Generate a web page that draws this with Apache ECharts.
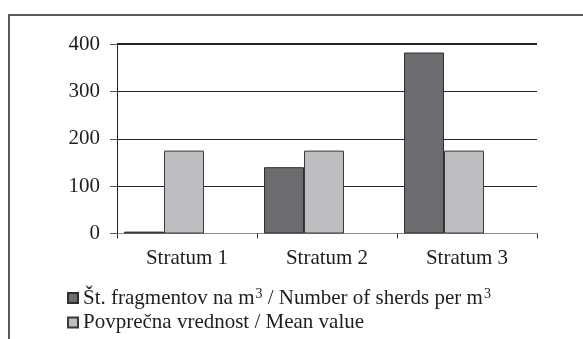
<!DOCTYPE html>
<html>
<head>
<meta charset="utf-8">
<script src="https://cdn.jsdelivr.net/npm/echarts@6/dist/echarts.min.js"></script>
<style>
  html, body { margin: 0; padding: 0; background: #fff; }
  #chart { width: 583px; height: 339px; }
</style>
</head>
<body>
<div id="chart"></div>
<script>
// Sherd density per stratum compared with the overall mean
const categories = ['Stratum 1', 'Stratum 2', 'Stratum 3'];
const sherdsPerM3 = [4, 140, 382];
const meanValue = [175, 175, 175];
const yTicks = [0, 100, 200, 300, 400];

const seriesNames = [
  'Št. fragmentov na m3 / Number of sherds per m3',
  'Povprečna vrednost / Mean value'
];

const serif = '"Liberation Serif", "DejaVu Serif", serif';
const textColor = '#1e1e1e';

const legendText = {
  fontFamily: serif,
  fontSize: 21,
  color: textColor,
  rich: {
    t: { fontFamily: serif, fontSize: 21, color: textColor, lineHeight: 22 },
    s: { fontFamily: serif, fontSize: 14, color: textColor, lineHeight: 22, verticalAlign: 'top', padding: [0, 0, 7, 1] }
  }
};

function legendLabel(name) {
  if (name === seriesNames[0]) {
    return '{t|Št. fragmentov na m}{s|3}{t| / Number of sherds per m}{s|3}';
  }
  return '{t|' + name + '}';
}

function legendRow(name, top) {
  return {
    left: 67,
    top: top,
    itemWidth: 10,
    itemHeight: 10,
    itemGap: 8,
    icon: 'rect',
    padding: 0,
    data: [name],
    formatter: legendLabel,
    textStyle: legendText
  };
}

const chart = echarts.init(document.getElementById('chart'), null, { renderer: 'canvas' });

chart.setOption({
  animation: false,
  backgroundColor: '#ffffff',
  graphic: [{
    type: 'rect',
    shape: { x: 9, y: 15, width: 700, height: 500 },
    style: { fill: 'none', stroke: '#5a5a5a', lineWidth: 2 },
    silent: true
  }],
  grid: { left: 117, right: 46, top: 44, bottom: 105.5, containLabel: false },
  legend: [
    legendRow(seriesNames[0], 287),
    legendRow(seriesNames[1], 312)
  ],
  xAxis: {
    type: 'category',
    data: categories,
    boundaryGap: true,
    axisLine: { show: true, lineStyle: { color: '#8a8a8a', width: 1 } },
    axisTick: { show: true, length: 5, lineStyle: { color: '#333' } },
    axisLabel: { fontFamily: serif, fontSize: 21, color: textColor, margin: 14 },
    splitLine: { show: false }
  },
  yAxis: {
    type: 'value',
    min: yTicks[0],
    max: yTicks[yTicks.length - 1],
    interval: 100,
    axisLine: { show: true, lineStyle: { color: '#222', width: 1 } },
    axisTick: { show: true, length: 7, lineStyle: { color: '#555' } },
    axisLabel: { fontFamily: serif, fontSize: 21, color: textColor, margin: 17 },
    splitLine: { show: true, lineStyle: { color: '#222', width: 1 } }
  },
  series: [
    {
      name: seriesNames[0],
      type: 'bar',
      data: sherdsPerM3,
      barWidth: 40,
      barGap: '0%',
      itemStyle: { color: '#6b6c70', borderColor: '#2e2e2e', borderWidth: 1 },
      markLine: {
        silent: true,
        symbol: 'none',
        label: { show: false },
        lineStyle: { color: '#222', width: 2, type: 'solid' },
        data: [{ yAxis: yTicks[yTicks.length - 1] }]
      }
    },
    {
      name: seriesNames[1],
      type: 'bar',
      data: meanValue,
      barWidth: 40,
      barGap: '0%',
      itemStyle: { color: '#bcbdc0', borderColor: '#3a3a3a', borderWidth: 1 }
    },
    {
      // empty slot that keeps the bar pairs left of each category's centre
      name: 'slot',
      type: 'bar',
      data: categories.map(() => '-'),
      barWidth: 46,
      barGap: '0%',
      silent: true
    }
  ]
});
</script>
</body>
</html>
